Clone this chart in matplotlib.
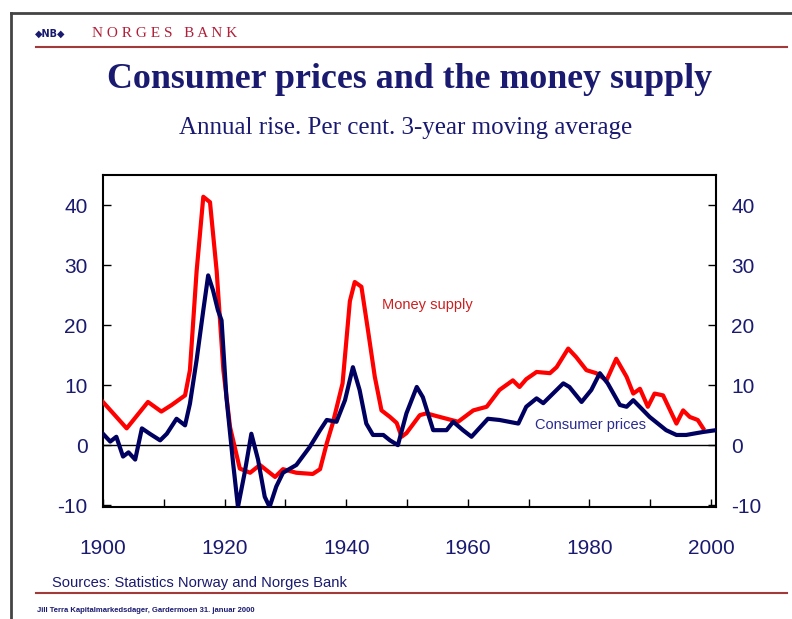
import matplotlib
matplotlib.use('Agg')
import matplotlib.pyplot as plt
from matplotlib.lines import Line2D

# Money supply, annual rise (per cent, 3-year moving average)
money_years = [1900, 1903.9, 1907.4, 1909.6, 1911.3, 1913.5, 1914.3, 1915.4, 1916.5, 1917.6,
               1918.7, 1919.8, 1920.9, 1922.5, 1924.2, 1925.8, 1928.3, 1929.6, 1931.8, 1934.5,
               1935.7, 1936.8, 1937.8, 1939.4, 1940.6, 1941.4, 1942.5, 1943.6, 1944.7, 1945.8,
               1947.2, 1948.3, 1949.1, 1949.9, 1952.1, 1953.2, 1955.4, 1958.4, 1960.9, 1963.1,
               1965.2, 1967.4, 1968.5, 1969.6, 1971.3, 1973.5, 1974.6, 1976.5, 1977.8, 1979.5,
               1981.1, 1982.8, 1984.4, 1986.1, 1987.2, 1988.3, 1989.6, 1990.7, 1992.1, 1994.3,
               1995.4, 1996.5, 1997.8, 1998.7]
money_vals = [7.2, 2.8, 7.2, 5.6, 6.7, 8.3, 12.5, 29, 41.4, 40.5,
              29, 12.5, 3, -3.9, -4.6, -3.3, -5.3, -4, -4.6, -4.8,
              -4, 0.3, 3.7, 10.3, 24, 27.2, 26.4, 19, 11.4, 5.8,
              4.7, 3.7, 1.4, 2, 5, 5.3, 4.7, 3.9, 5.8, 6.4,
              9.2, 10.8, 9.7, 11, 12.2, 12, 13, 16.1, 14.7, 12.5,
              12, 10.8, 14.4, 11.4, 8.6, 9.4, 6.4, 8.6, 8.3, 3.6,
              5.8, 4.7, 4.2, 2.8]

# Consumer prices, annual rise (per cent, 3-year moving average)
cpi_years = [1900, 1901.2, 1902.2, 1903.3, 1904.2, 1905.3, 1906.4, 1907.7, 1909.4, 1910.5,
             1912.1, 1913.5, 1914.3, 1915.4, 1916.5, 1917.3, 1918.1, 1918.9, 1919.5, 1920.3,
             1921.4, 1922.2, 1923.3, 1924.4, 1925.5, 1926.6, 1927.4, 1928.5, 1929.6, 1931.8,
             1934.0, 1935.7, 1936.8, 1938.4, 1939.8, 1941.1, 1942.2, 1943.3, 1944.4, 1946.1,
             1947.2, 1948.5, 1949.9, 1951.6, 1952.6, 1954.3, 1956.5, 1957.6, 1959.2, 1960.6,
             1963.3, 1965.2, 1968.3, 1969.6, 1971.3, 1972.4, 1975.7, 1976.7, 1978.7, 1980.3,
             1981.7, 1983.0, 1985.0, 1986.1, 1987.2, 1989.9, 1992.6, 1994.3, 1995.9, 1997.0,
             1998.7, 2000.8]
cpi_vals = [1.9, 0.6, 1.4, -1.9, -1.2, -2.4, 2.8, 1.9, 0.8, 1.9,
            4.4, 3.3, 6.9, 14.2, 22.5, 28.3, 25.8, 22.5, 20.8, 8,
            -3, -10.3, -4.6, 1.9, -2.4, -8.6, -10.3, -6.9, -4.6, -3.3,
            -0.3, 2.5, 4.2, 3.9, 7.5, 13, 9.2, 3.6, 1.7, 1.7,
            0.8, 0, 5.3, 9.7, 8, 2.5, 2.5, 3.9, 2.5, 1.4,
            4.4, 4.2, 3.6, 6.4, 7.8, 7, 10.3, 9.7, 7.2, 9.2,
            12, 10.3, 6.7, 6.4, 7.5, 4.7, 2.5, 1.7, 1.7, 1.9,
            2.2, 2.5]

x_ticks = [1900, 1920, 1940, 1960, 1980, 2000]
x_minor = [1910, 1930, 1950, 1970, 1990]
y_ticks = [-10, 0, 10, 20, 30, 40]

navy = '#1a1a70'
line_navy = '#000060'
red = '#ff0000'
rule_red = '#a33a3a'
sans = 'Liberation Sans'
serif = 'Liberation Serif'

plt.rcParams['axes.unicode_minus'] = False

fig = plt.figure(figsize=(7.92, 6.19), dpi=100)

# slide frame and rules
fig.add_artist(Line2D([0.014, 1.0], [0.979, 0.979], color='#444444', lw=2))
fig.add_artist(Line2D([0.014, 0.014], [0.0, 0.979], color='#444444', lw=2))
fig.add_artist(Line2D([0.045, 0.994], [0.924, 0.924], color=rule_red, lw=1.5))
fig.add_artist(Line2D([0.045, 0.994], [0.042, 0.042], color=rule_red, lw=1.5))

fig.text(0.044, 0.946, '◆NB◆', color=navy, fontsize=7, fontweight='bold', va='center')
fig.text(0.116, 0.946, 'N O R G E S   B A N K', color='#b0203a', fontsize=11,
         family=serif, va='center')

fig.text(0.517, 0.871, 'Consumer prices and the money supply', ha='center', va='center',
         color=navy, fontsize=25.8, fontweight='bold', family=serif)
fig.text(0.512, 0.793, 'Annual rise. Per cent. 3-year moving average', ha='center', va='center',
         color=navy, fontsize=18, family=serif)

fig.text(0.066, 0.058, 'Sources: Statistics Norway and Norges Bank', va='center',
         color=navy, fontsize=10.6, family=sans)
fig.text(0.047, 0.013, 'Jill Terra Kapitalmarkedsdager, Gardermoen 31. januar 2000', va='center',
         color=navy, fontsize=5.5, fontweight='bold', family=sans)

ax = fig.add_axes([0.130, 0.181, 0.774, 0.536])
ax.plot(money_years, money_vals, color=red, lw=3, zorder=3)
ax.plot(cpi_years, cpi_vals, color=line_navy, lw=3, zorder=4)
ax.axhline(0, color='black', lw=1, zorder=2)

ax.set_xlim(1900, 2000.8)
ax.set_ylim(-10.3, 45)
ax.set_xticks(x_ticks)
ax.set_xticks(x_minor, minor=True)
ax.set_yticks(y_ticks)
ax.tick_params(axis='both', which='both', direction='in', colors='black', labelcolor=navy,
               labelsize=15, length=6, width=1)
ax.tick_params(axis='y', right=True, labelright=True, pad=11)
ax.tick_params(axis='x', pad=23)
for t in ax.xaxis.get_major_ticks() + ax.yaxis.get_major_ticks():
    t.label1.set_family(sans)
    t.label2.set_family(sans)
for s in ax.spines.values():
    s.set_linewidth(1.5)

ax.text(1945.9, 23.3, 'Money supply', color='#cc2020', fontsize=10.5, family=sans, va='center')
ax.text(1971.0, 3.3, 'Consumer prices', color='#2a2a90', fontsize=10.5, family=sans, va='center')

plt.savefig('out.png', dpi=100)
